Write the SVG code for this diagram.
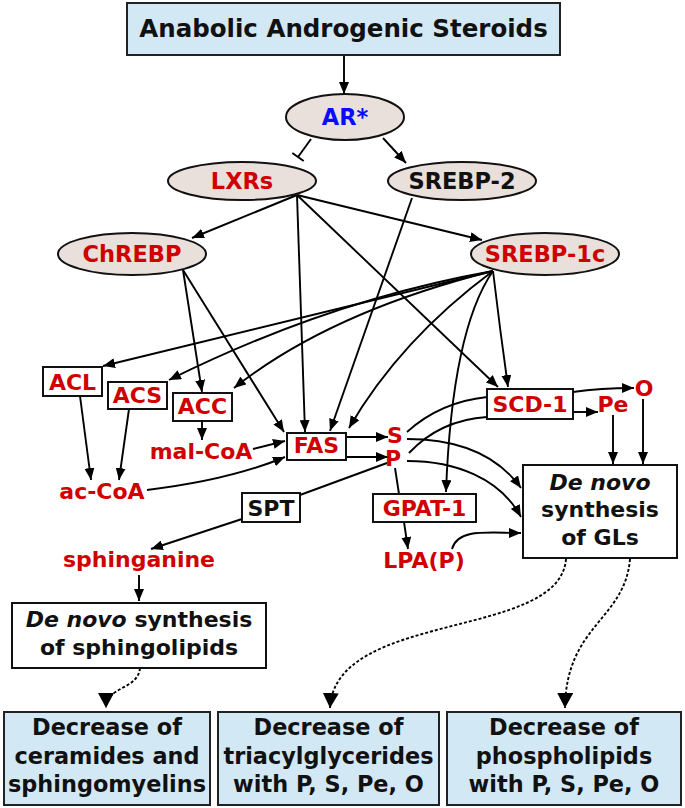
<svg xmlns="http://www.w3.org/2000/svg" width="685" height="808" viewBox="0 0 685 808">
<style>
text{font-family:"DejaVu Sans","Verdana",sans-serif;font-weight:bold;text-anchor:middle}
.t{font-size:22px}
.b{font-size:22.4px}
.e{font-size:22.5px}
.red{fill:#d00000}
.blk{fill:#111}
.ell{fill:#e9dfdb;stroke:#111;stroke-width:2}
.box{fill:#fff;stroke:#111;stroke-width:2}
.blue{fill:#d2e8f4;stroke:#222;stroke-width:2}
.c path,.c line{fill:none;stroke:#000;stroke-width:1.9}
.a{marker-end:url(#arr)}
.d{stroke-dasharray:3 2;marker-end:url(#big)}
.it{font-style:italic}
</style>
<defs>
<marker id="arr" viewBox="0 0 12 10" refX="12" refY="5" markerWidth="12" markerHeight="10" markerUnits="userSpaceOnUse" orient="auto"><path d="M0,0 L12,5 L0,10 z" fill="#000"/></marker>
<marker id="big" viewBox="0 0 15 16" refX="15" refY="8" markerWidth="15" markerHeight="16" markerUnits="userSpaceOnUse" orient="auto"><path d="M0,0 L15,8 L0,16 z" fill="#000"/></marker>
</defs>

<g class="c" id="connectors">
<line class="a" x1="344" y1="56" x2="344" y2="94"/>
<line x1="311" y1="139" x2="298" y2="157"/>
<line x1="292.3" y1="152.9" x2="303.7" y2="161.1"/>
<line class="a" x1="383" y1="138" x2="406" y2="163"/>
<line class="a" x1="297" y1="195" x2="192" y2="238"/>
<line class="a" x1="297" y1="195" x2="482" y2="240"/>
<line class="a" x1="297" y1="195" x2="305" y2="432"/>
<line class="a" x1="297" y1="195" x2="498" y2="387"/>
<line class="a" x1="412" y1="198" x2="330" y2="431"/>
<line class="a" x1="183" y1="270" x2="202" y2="392"/>
<line class="a" x1="183" y1="270" x2="284" y2="432"/>
<line class="a" x1="493" y1="271" x2="103" y2="366"/>
<path class="a" d="M493,271 Q330,300 169,380"/>
<path class="a" d="M493,271 Q330,312 234,388"/>
<path class="a" d="M493,271 Q400,340 349,428"/>
<path class="a" d="M493,271 Q452,330 446,492"/>
<path class="a" d="M493,271 Q500,330 508,387"/>
<path class="a" d="M573,392 Q600,388 634,388"/>
<line class="a" x1="573" y1="412" x2="598" y2="412"/>
<line class="a" x1="613" y1="415" x2="613" y2="464"/>
<line class="a" x1="643" y1="399" x2="643" y2="464"/>
<line class="a" x1="346" y1="437" x2="388" y2="437"/>
<line class="a" x1="346" y1="457" x2="388" y2="457"/>
<path d="M407,432 Q440,402 487,397"/>
<path d="M409,453 Q440,420 487,417"/>
<path class="a" d="M407,439 C455,439 495,452 521,488"/>
<path class="a" d="M407,461 C455,461 500,478 521,517"/>
<path class="a" d="M452,549 C458,528 488,533 521,533"/>
<line x1="395" y1="468" x2="399" y2="494"/>
<line class="a" x1="404" y1="522" x2="408" y2="549"/>
<line x1="387" y1="463" x2="300" y2="495"/>
<line class="a" x1="242" y1="519" x2="151" y2="549"/>
<line class="a" x1="80" y1="396" x2="91" y2="480"/>
<line class="a" x1="129" y1="409" x2="119" y2="480"/>
<line class="a" x1="202" y1="421" x2="202" y2="440"/>
<line class="a" x1="253" y1="449" x2="285" y2="441"/>
<path class="a" d="M147,490 Q230,480 285,457"/>
<line class="a" x1="139" y1="575" x2="139" y2="601"/>
<path class="d" d="M140,668 C138,690 106,686 106,708"/>
<path class="d" d="M566,559 C560,640 335,610 330,708"/>
<path class="d" d="M630,559 C625,620 566,625 565,708"/>
</g>

<g id="title"><rect class="blue" x="127" y="3" width="433" height="52"/><text x="343.5" y="37" style="font-size:24.5px" class="blk">Anabolic Androgenic Steroids</text></g>
<g id="ar"><ellipse class="ell" cx="345" cy="117" rx="59" ry="23"/><text class="e" x="345" y="125" fill="#0a0aff">AR*</text></g>
<g id="lxrs"><ellipse class="ell" cx="242" cy="181" rx="74" ry="19"/><text class="e red" x="242" y="189">LXRs</text></g>
<g id="srebp2"><ellipse class="ell" cx="462" cy="181" rx="74" ry="19"/><text class="e blk" x="462" y="189">SREBP-2</text></g>
<g id="chrebp"><ellipse class="ell" cx="132" cy="254" rx="74" ry="21"/><text class="e red" x="132" y="262">ChREBP</text></g>
<g id="srebp1c"><ellipse class="ell" cx="545" cy="254" rx="74" ry="21"/><text class="e red" x="545" y="262">SREBP-1c</text></g>

<g id="acl"><rect class="box" x="43" y="367" width="59" height="29"/><text class="t red" x="72.5" y="390">ACL</text></g>
<g id="acs"><rect class="box" x="108" y="382" width="59" height="27"/><text class="t red" x="137.5" y="403">ACS</text></g>
<g id="acc"><rect class="box" x="173" y="393" width="59" height="28"/><text class="t red" x="202.5" y="414">ACC</text></g>
<g id="fas"><rect class="box" x="287" y="433" width="59" height="27"/><text class="t red" x="316.5" y="453">FAS</text></g>
<g id="scd1"><rect class="box" x="487" y="389" width="86" height="30"/><text class="t red" x="530" y="412">SCD-1</text></g>
<g id="gpat1"><rect class="box" x="373" y="494" width="103" height="28"/><text class="t red" x="424.5" y="516">GPAT-1</text></g>
<g id="spt"><rect class="box" x="242" y="493" width="58" height="29"/><text class="t blk" x="271" y="516">SPT</text></g>

<g id="malcoa"><text class="t red" x="201" y="459">mal-CoA</text></g>
<g id="accoa"><text class="t red" x="102" y="499">ac-CoA</text></g>
<g id="s"><text class="t red" x="395" y="443">S</text></g>
<g id="p"><text class="t red" x="393" y="466">P</text></g>
<g id="pe"><text class="t red" x="613" y="412">Pe</text></g>
<g id="o"><text class="t red" x="644" y="396">O</text></g>
<g id="sphinganine"><text class="t red" x="139" y="567">sphinganine</text></g>
<g id="lpap"><text class="t red" x="424" y="568">LPA(P)</text></g>

<g id="gl"><rect class="box" x="523" y="465" width="154" height="93"/>
<text class="t blk it" x="600" y="490">De novo</text>
<text class="t blk" x="600" y="517">synthesis</text>
<text class="t blk" x="600" y="545">of GLs</text></g>
<g id="sphingo"><rect class="box" x="12" y="603" width="254" height="65"/>
<text class="t blk" x="139" y="627"><tspan class="it">De novo</tspan> synthesis</text>
<text class="t blk" x="139" y="655">of sphingolipids</text></g>

<g id="dec1"><rect class="blue" x="4" y="712" width="206" height="93"/>
<text class="b blk" x="107" y="735">Decrease of</text>
<text class="b blk" x="107" y="764">ceramides and</text>
<text class="b blk" x="107" y="792">sphingomyelins</text></g>
<g id="dec2"><rect class="blue" x="218" y="712" width="221" height="93"/>
<text class="b blk" x="328.5" y="735">Decrease of</text>
<text class="b blk" x="328.5" y="764">triacylglycerides</text>
<text class="b blk" x="328.5" y="792">with P, S, Pe, O</text></g>
<g id="dec3"><rect class="blue" x="447" y="712" width="234" height="93"/>
<text class="b blk" x="564" y="735">Decrease of</text>
<text class="b blk" x="564" y="764">phospholipids</text>
<text class="b blk" x="564" y="792">with P, S, Pe, O</text></g>
</svg>
